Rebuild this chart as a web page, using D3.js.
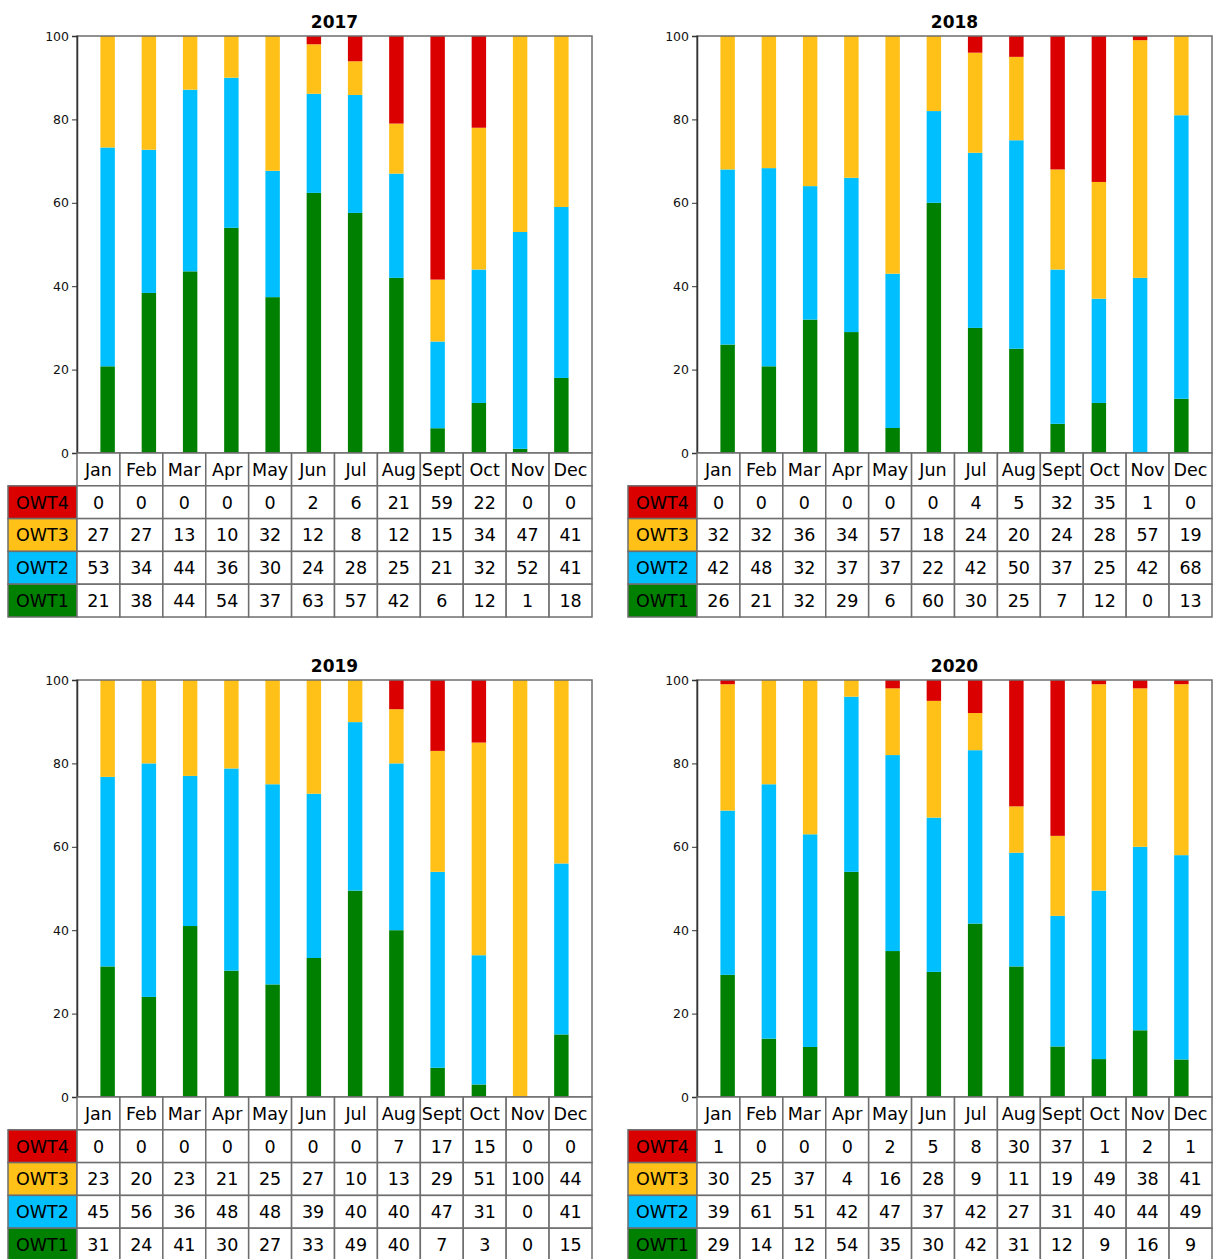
<!DOCTYPE html>
<html>
<head>
<meta charset="utf-8">
<script src="https://cdn.jsdelivr.net/npm/d3@7"></script>
<style>
  body { margin: 0; background: #fff; }
  text { font-family: "DejaVu Sans", sans-serif; }
</style>
</head>
<body>
<script>
// mois, années et types
const months = ['Jan', 'Feb', 'Mar', 'Apr', 'May', 'Jun', 'Jul', 'Aug', 'Sept', 'Oct', 'Nov', 'Dec'];
const years = ['2017', '2018', '2019', '2020'];
const types = ['OWT4', 'OWT3', 'OWT2', 'OWT1'];
const typeColors = ['#da0000', '#ffc117', '#00bfff', '#008000'];
const yTicks = [0, 20, 40, 60, 80, 100];

// une ligne par année (2017..2020)
const owt4 = [
  [0, 0, 0, 0, 0, 2, 6, 21, 59, 22, 0, 0],
  [0, 0, 0, 0, 0, 0, 4, 5, 32, 35, 1, 0],
  [0, 0, 0, 0, 0, 0, 0, 7, 17, 15, 0, 0],
  [1, 0, 0, 0, 2, 5, 8, 30, 37, 1, 2, 1]
];
const owt3 = [
  [27, 27, 13, 10, 32, 12, 8, 12, 15, 34, 47, 41],
  [32, 32, 36, 34, 57, 18, 24, 20, 24, 28, 57, 19],
  [23, 20, 23, 21, 25, 27, 10, 13, 29, 51, 100, 44],
  [30, 25, 37, 4, 16, 28, 9, 11, 19, 49, 38, 41]
];
const owt2 = [
  [53, 34, 44, 36, 30, 24, 28, 25, 21, 32, 52, 41],
  [42, 48, 32, 37, 37, 22, 42, 50, 37, 25, 42, 68],
  [45, 56, 36, 48, 48, 39, 40, 40, 47, 31, 0, 41],
  [39, 61, 51, 42, 47, 37, 42, 27, 31, 40, 44, 49]
];
const owt1 = [
  [21, 38, 44, 54, 37, 63, 57, 42, 6, 12, 1, 18],
  [26, 21, 32, 29, 6, 60, 30, 25, 7, 12, 0, 13],
  [31, 24, 41, 30, 27, 33, 49, 40, 7, 3, 0, 15],
  [29, 14, 12, 54, 35, 30, 42, 31, 12, 9, 16, 9]
];

const W = 1213, H = 1259;
const svg = d3.select('body').append('svg').attr('width', W).attr('height', H);

// positions des 4 panneaux
const panels = [
  {left: 77, right: 592, top: 36, bottom: 453},
  {left: 697, right: 1212, top: 36, bottom: 453},
  {left: 77, right: 592, top: 680, bottom: 1097},
  {left: 697, right: 1212, top: 680, bottom: 1097}
];
const rowH = 32.8, labelW = 69;
const gridColor = '#6e6e6e';

function drawPanel(k){
  const p = panels[k];
  const g = svg.append('g').attr('class', 'panel-' + years[k]);

  const rows = months.map((m, i) => ({
    month: m, OWT1: owt1[k][i], OWT2: owt2[k][i], OWT3: owt3[k][i], OWT4: owt4[k][i]
  }));

  // barres : positions comme matplotlib (largeur 0.35, marges 5%)
  const x = d3.scaleLinear().domain([-0.7425, 11.7425]).range([p.left, p.right]);
  const y = d3.scaleLinear().domain([0, 1]).range([p.bottom, p.top]);
  const barW = x(0.35) - x(0);

  const stack = d3.stack()
    .keys(['OWT1', 'OWT2', 'OWT3', 'OWT4'])
    .offset(d3.stackOffsetExpand);
  const series = stack(rows);

  g.selectAll('g.layer')
    .data(series)
    .join('g')
    .attr('class', 'layer')
    .attr('fill', d => typeColors[types.indexOf(d.key)])
    .selectAll('rect')
    .data(d => d)
    .join('rect')
    .attr('x', (d, i) => x(i) - barW / 2)
    .attr('width', barW)
    .attr('y', d => y(d[1]))
    .attr('height', d => Math.max(0, y(d[0]) - y(d[1])));

  // cadre
  g.append('rect')
    .attr('x', p.left).attr('y', p.top)
    .attr('width', p.right - p.left).attr('height', p.bottom - p.top)
    .attr('fill', 'none').attr('stroke', gridColor).attr('stroke-width', 1.5);

  // axe gauche
  const yAxis = d3.scaleLinear().domain([0, 100]).range([p.bottom, p.top]);
  const ax = g.append('g')
    .attr('transform', `translate(${p.left},0)`)
    .call(d3.axisLeft(yAxis).tickValues(yTicks).tickSize(5).tickPadding(3));
  ax.select('.domain').attr('stroke', '#333').attr('stroke-width', 1.5);
  ax.selectAll('.tick line').attr('stroke', '#333');
  ax.selectAll('.tick text').attr('font-size', 12.5).attr('fill', '#111')
    .attr('font-family', '"DejaVu Sans", sans-serif');

  // titre
  g.append('text')
    .attr('x', (p.left + p.right) / 2).attr('y', p.top - 8)
    .attr('text-anchor', 'middle')
    .attr('font-size', 17).attr('font-weight', 'bold')
    .text(years[k]);

  // tableau
  const col = d3.scaleBand().domain(months).range([p.left, p.right]);
  const row = d3.scaleBand().domain(['head'].concat(types))
    .range([p.bottom, p.bottom + rowH * 5]);

  const cells = [];
  months.forEach(m => cells.push({c: m, r: 'head', text: m, fill: '#fff'}));
  const vals = {OWT4: owt4[k], OWT3: owt3[k], OWT2: owt2[k], OWT1: owt1[k]};
  types.forEach((t, ti) => {
    cells.push({c: null, r: t, text: t, fill: typeColors[ti]});
    months.forEach((m, i) => cells.push({c: m, r: t, text: vals[t][i], fill: '#fff'}));
  });

  const cx = d => d.c === null ? p.left - labelW : col(d.c);
  const cw = d => d.c === null ? labelW : col.bandwidth();

  const cg = g.selectAll('g.cell')
    .data(cells)
    .join('g')
    .attr('class', 'cell');

  cg.append('rect')
    .attr('x', cx).attr('y', d => row(d.r))
    .attr('width', cw).attr('height', row.bandwidth())
    .attr('fill', d => d.fill)
    .attr('stroke', gridColor).attr('stroke-width', 1.5);

  cg.append('text')
    .attr('x', d => cx(d) + cw(d) / 2)
    .attr('y', d => row(d.r) + row.bandwidth() / 2)
    .attr('dy', '0.36em')
    .attr('text-anchor', 'middle')
    .attr('font-size', 17.5)
    .attr('fill', '#000')
    .text(d => d.text);
}

years.forEach((yr, k) => drawPanel(k));
</script>
</body>
</html>
